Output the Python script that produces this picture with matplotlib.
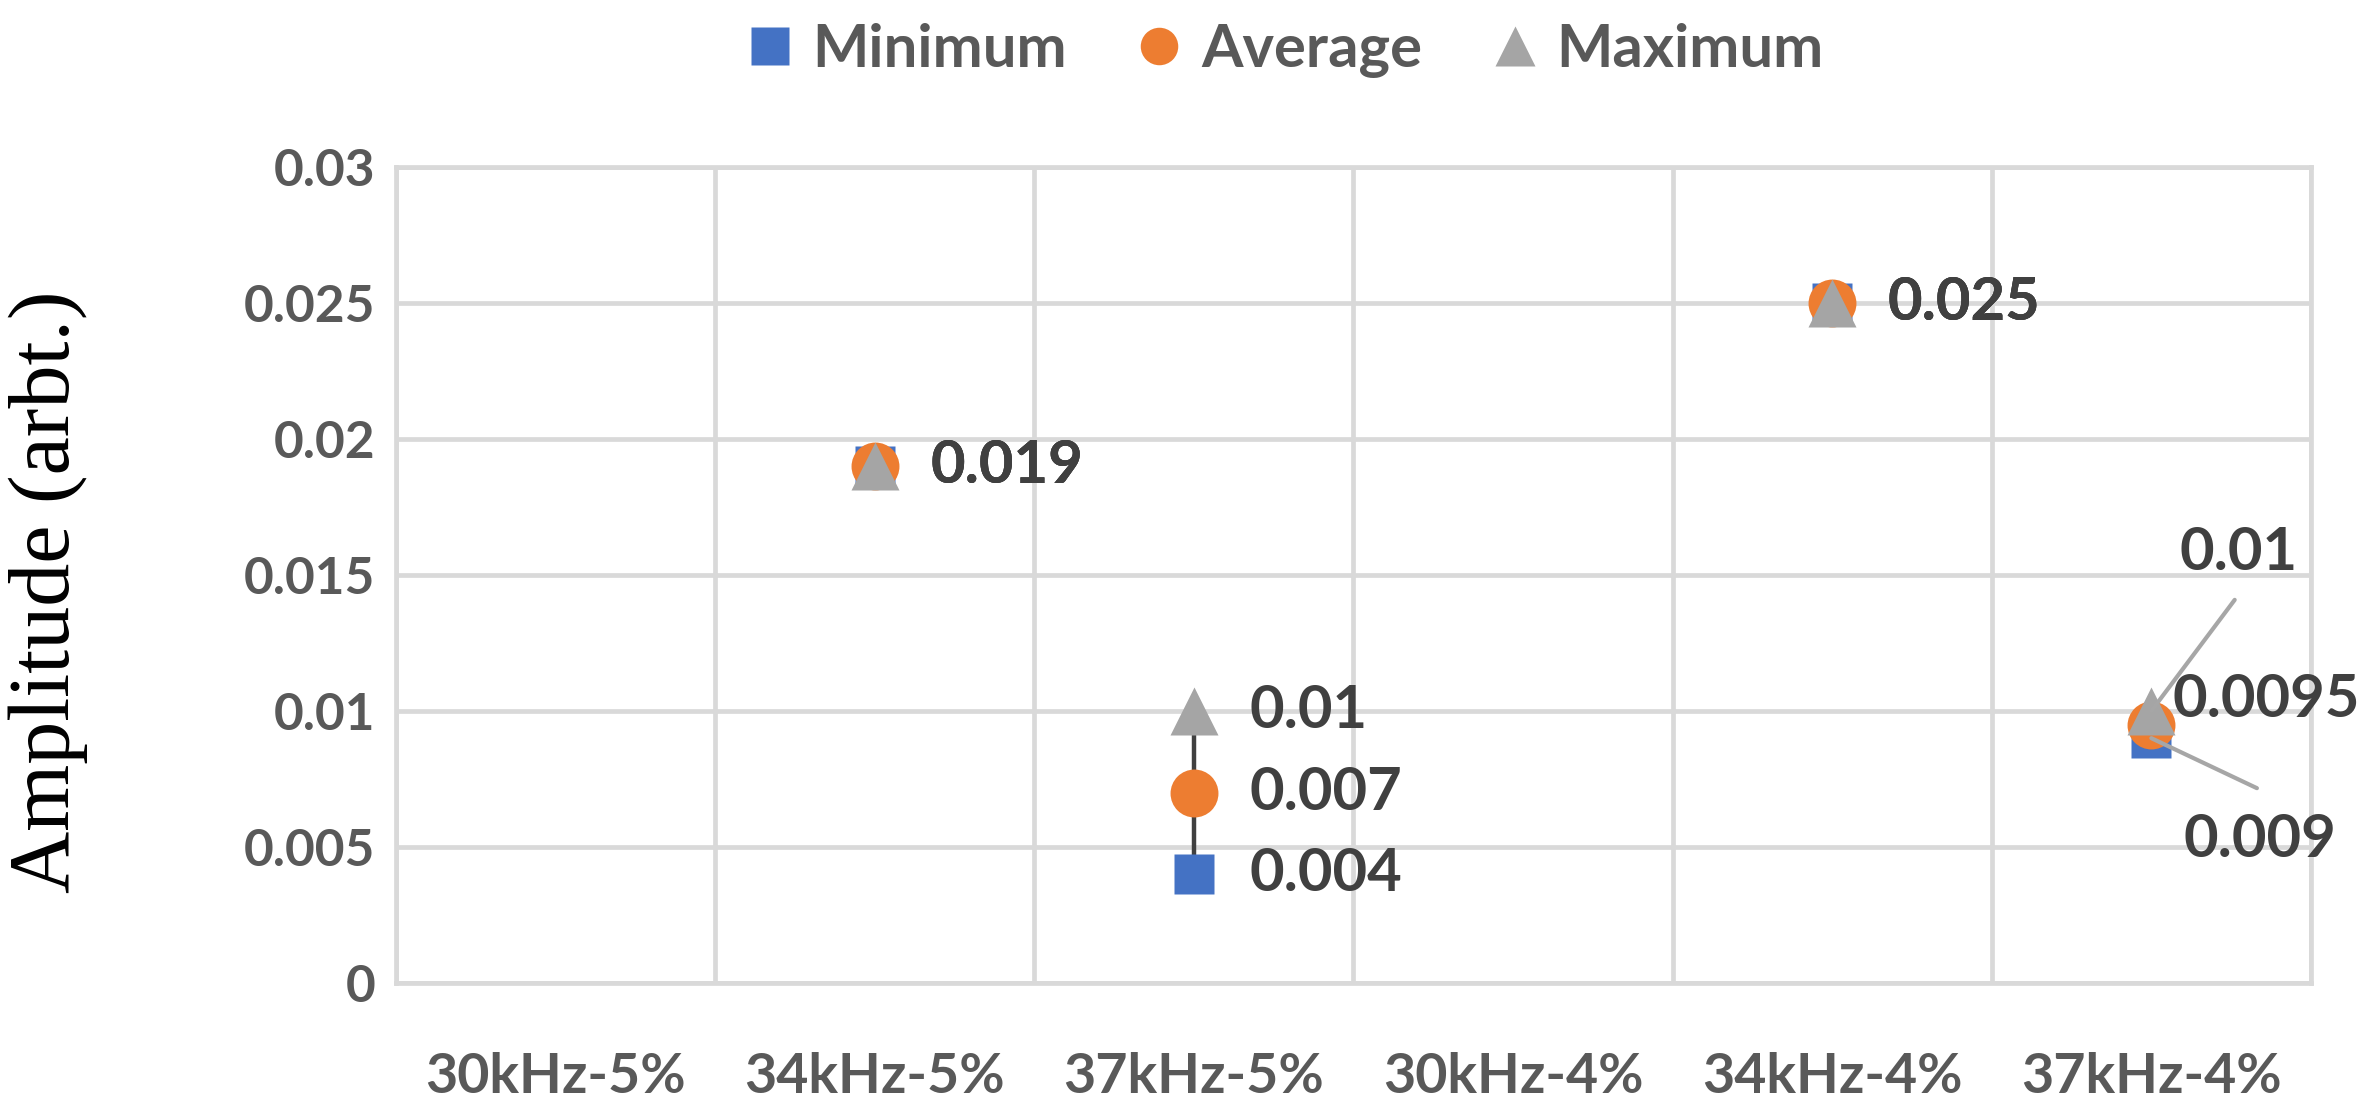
"""Amplitude min / average / max per frequency-concentration setting."""
import matplotlib as mpl
mpl.use("Agg")
import matplotlib.pyplot as plt
import numpy as np
from matplotlib.lines import Line2D

mpl.rcParams.update({
    "font.family": ["Lato", "DejaVu Sans"],
    "font.weight": "bold",
})

# ── data ──
CATEGORIES = ["30kHz-5%", "34kHz-5%", "37kHz-5%", "30kHz-4%", "34kHz-4%", "37kHz-4%"]
MINIMUM = [np.nan, 0.019, 0.004, np.nan, 0.025, 0.009]
AVERAGE = [np.nan, 0.019, 0.007, np.nan, 0.025, 0.0095]
MAXIMUM = [np.nan, 0.019, 0.010, np.nan, 0.025, 0.010]
Y_TICKS = [0, 0.005, 0.01, 0.015, 0.02, 0.025, 0.03]

C_MIN, C_AVG, C_MAX = "#4472C4", "#ED7D31", "#A5A5A5"
GRID = "#D9D9D9"
TICK_C = "#595959"
LBL_C = "#404040"

fig = plt.figure(figsize=(23.78, 11.18), dpi=100)
ax = fig.add_axes([0.1665, 0.1208, 0.8053, 0.7298])

x = np.arange(len(CATEGORIES))
mn, av, mx = np.array(MINIMUM), np.array(AVERAGE), np.array(MAXIMUM)

# high-low lines
ok = ~np.isnan(mn)
ax.vlines(x[ok], mn[ok], mx[ok], color=LBL_C, lw=3.2, zorder=3)

ax.plot(x, mn, ls="none", marker="s", ms=29, color=C_MIN, mec="none", zorder=4)
ax.plot(x, av, ls="none", marker="o", ms=34.5, color=C_AVG, mec="none", zorder=5)
ax.plot(x, mx, ls="none", marker="^", ms=34.5, color=C_MAX, mec="none", zorder=6)

# ── data labels (one per series, right of the point; overlapping ones stack) ──
lbl_kw = dict(textcoords="offset points", fontsize=43, fontweight="bold",
              color=LBL_C, zorder=7)
for series in (MINIMUM, AVERAGE, MAXIMUM):
    for i in [1, 2, 4]:
        ax.annotate(f"{series[i]:g}", (x[i], series[i]), xytext=(40, 0),
                    ha="left", va="center", **lbl_kw)

# crowded last group: leader lines
i = 5
lead = dict(arrowstyle="-", color="#A6A6A6", lw=3.0, shrinkA=0, shrinkB=0)
ax.annotate("", (x[i], MAXIMUM[i]), xytext=(60, 80), textcoords="offset points",
            arrowprops=lead, zorder=7)
ax.annotate(f"{MAXIMUM[i]:g}", (x[i], MAXIMUM[i]), xytext=(63, 114),
            ha="center", va="center", **lbl_kw)
ax.annotate(f"{AVERAGE[i]:g}", (x[i], AVERAGE[i]), xytext=(15, 18),
            ha="left", va="center", **lbl_kw)
ax.annotate("", (x[i], MINIMUM[i]), xytext=(76, -36), textcoords="offset points",
            arrowprops=lead, zorder=7)
ax.annotate(f"{MINIMUM[i]:g}", (x[i], MINIMUM[i]), xytext=(78, -73),
            ha="center", va="center", **lbl_kw)

# ── axes ──
ax.set_xlim(-0.5, len(CATEGORIES) - 0.5)
ax.set_ylim(0, 0.03)
ax.set_xticks(x)
ax.set_xticklabels(CATEGORIES, fontsize=40, fontweight="bold", color=TICK_C)
ax.set_xticks(np.arange(-0.5, len(CATEGORIES)), minor=True)
ax.set_yticks(Y_TICKS)
ax.set_yticklabels([f"{v:g}" for v in Y_TICKS], fontsize=37, fontweight="bold", color=TICK_C)
ax.tick_params(axis="both", which="both", length=0)
ax.tick_params(axis="x", pad=50)
ax.tick_params(axis="y", pad=15)
ax.grid(axis="y", which="major", color=GRID, lw=3.4, zorder=0)
ax.grid(axis="x", which="minor", color=GRID, lw=3.4, zorder=0)
ax.set_axisbelow(True)
for s in ax.spines.values():
    s.set_color(GRID)
    s.set_linewidth(3.4)

ax.set_ylabel("Amplitude (arbt.)", fontsize=62, fontweight="normal",
              family=["Liberation Serif", "DejaVu Serif"], color="black")
ax.yaxis.set_label_coords(-0.161, 0.48)

# ── legend ──
handles = [
    Line2D([0], [0], ls="none", marker="s", ms=27, color=C_MIN, mec="none", label="Minimum"),
    Line2D([0], [0], ls="none", marker="o", ms=27, color=C_AVG, mec="none", label="Average"),
    Line2D([0], [0], ls="none", marker="^", ms=29, color=C_MAX, mec="none", label="Maximum"),
]
leg = fig.legend(handles=handles, loc="center", bbox_to_anchor=(0.541, 0.955), ncol=3,
                 frameon=False, fontsize=43, handlelength=0.7, handletextpad=0.35,
                 columnspacing=1.2, borderpad=0)
for t in leg.get_texts():
    t.set_color(TICK_C)
    t.set_fontweight("bold")

fig.savefig("out.png", dpi=100, facecolor="white")
